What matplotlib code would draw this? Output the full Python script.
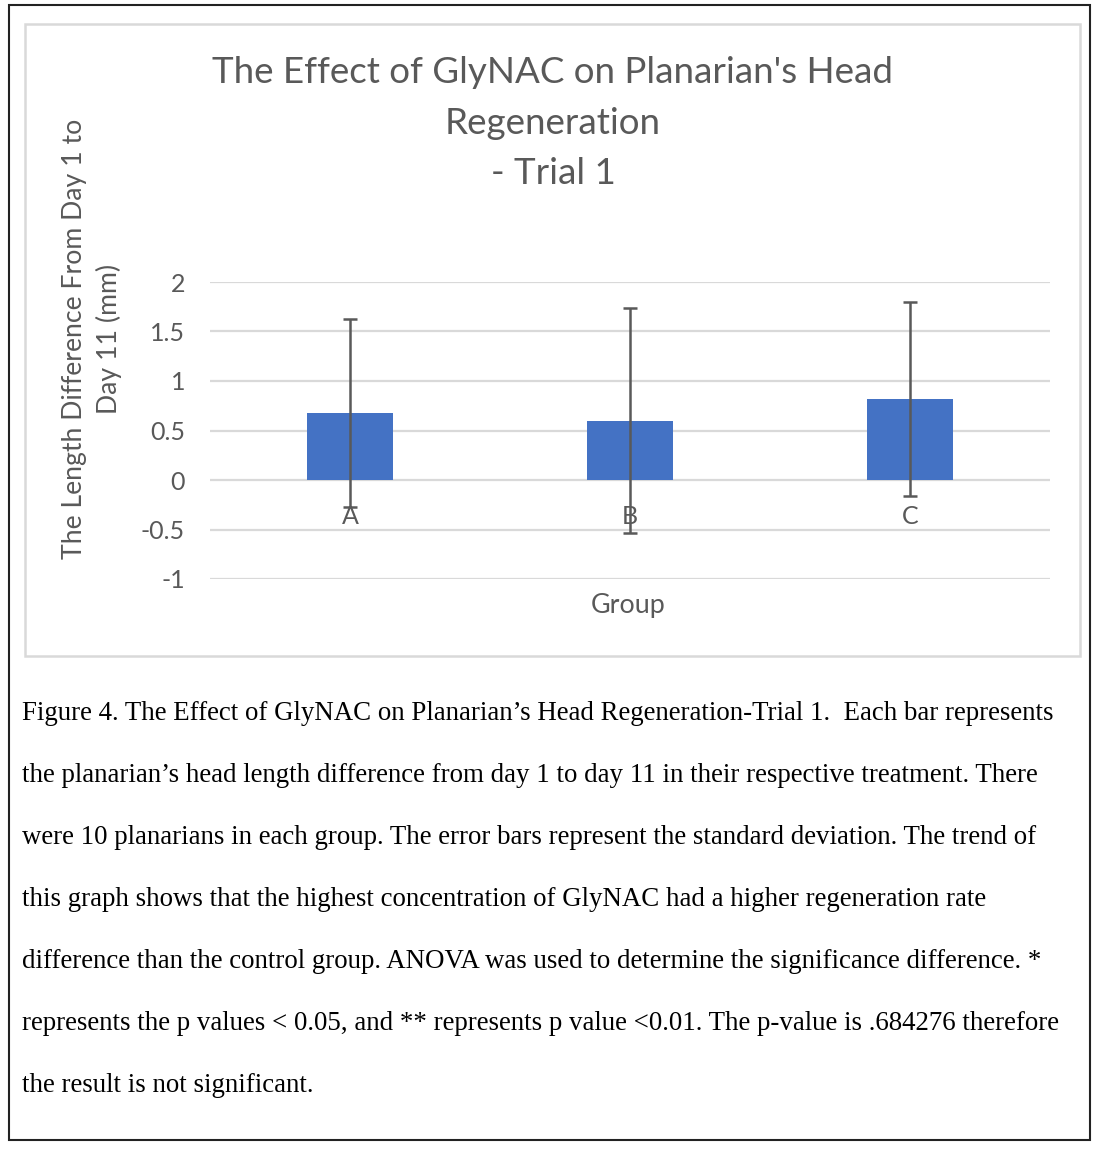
import matplotlib
matplotlib.use("Agg")
import matplotlib.pyplot as plt
from matplotlib.patches import Rectangle

plt.rcParams["font.family"] = ["Lato", "DejaVu Sans"]

groups = ["A", "B", "C"]
means = [0.68, 0.60, 0.82]
sds = [0.95, 1.14, 0.98]
yticks = [-1, -0.5, 0, 0.5, 1, 1.5, 2]
ytick_labels = ["-1", "-0.5", "0", "0.5", "1", "1.5", "2"]

title = "The Effect of GlyNAC on Planarian's Head\nRegeneration\n- Trial 1"
ylabel = "The Length Difference From Day 1 to\nDay 11 (mm)"
xlabel = "Group"
caption = [
    "Figure 4. The Effect of GlyNAC on Planarian\u2019s Head Regeneration-Trial 1.  Each bar represents",
    "the planarian\u2019s head length difference from day 1 to day 11 in their respective treatment. There",
    "were 10 planarians in each group. The error bars represent the standard deviation. The trend of",
    "this graph shows that the highest concentration of GlyNAC had a higher regeneration rate",
    "difference than the control group. ANOVA was used to determine the significance difference. *",
    "represents the p values < 0.05, and ** represents p value <0.01. The p-value is .684276 therefore",
    "the result is not significant.",
]

W, H = 1100, 1154
fig = plt.figure(figsize=(W / 100, H / 100), dpi=100)

# outer black frame and inner chart frame
fig.patches.append(Rectangle((9 / W, 1 - 1140 / H), 1081 / W, 1135 / H,
                             transform=fig.transFigure, fill=False,
                             edgecolor="#222222", linewidth=1.5))
fig.patches.append(Rectangle((25 / W, 1 - 656 / H), 1055 / W, 632 / H,
                             transform=fig.transFigure, fill=False,
                             edgecolor="#d9d9d9", linewidth=1.8))

ax = fig.add_axes([210 / W, 1 - 579 / H, 840 / W, 297 / H])
x = list(range(len(groups)))
ax.bar(x, means, width=0.31, color="#4472C4", zorder=2)
ax.errorbar(x, means, yerr=sds, fmt="none", ecolor="#595959",
            elinewidth=1.8, capsize=4.7, capthick=1.8, zorder=3)

ax.set_xlim(-0.5, 2.5)
ax.set_ylim(-1, 2)
ax.set_yticks(yticks)
ax.set_yticklabels(ytick_labels)
ax.set_xticks(x)
ax.set_xticklabels(groups)
ax.spines["bottom"].set_position(("data", 0))
for s in ax.spines.values():
    s.set_visible(False)
ax.tick_params(axis="x", length=0, pad=18, labelsize=18, labelcolor="#595959")
ax.tick_params(axis="y", length=0, pad=18, labelsize=18, labelcolor="#595959")
ax.yaxis.grid(True, color="#d9d9d9", linewidth=1.6, zorder=0)
ax.set_axisbelow(True)

fig.text(553 / W, 1 - 123 / H, title, ha="center", va="center",
         fontsize=26.5, color="#595959", linespacing=1.65)
fig.text(92 / W, 1 - 339 / H, ylabel, ha="center", va="center",
         rotation=90, fontsize=19.2, color="#595959", multialignment="center",
         linespacing=1.4)
fig.text(628 / W, 1 - 605 / H, xlabel, ha="center", va="center",
         fontsize=19.4, color="#595959")

for i, line in enumerate(caption):
    fig.text(22 / W, 1 - (719.5 + 62 * i) / H, line, ha="left", va="baseline",
             fontsize=19.4, family=["Liberation Serif", "DejaVu Serif"],
             color="#000000")

fig.savefig("out.png", dpi=100)
